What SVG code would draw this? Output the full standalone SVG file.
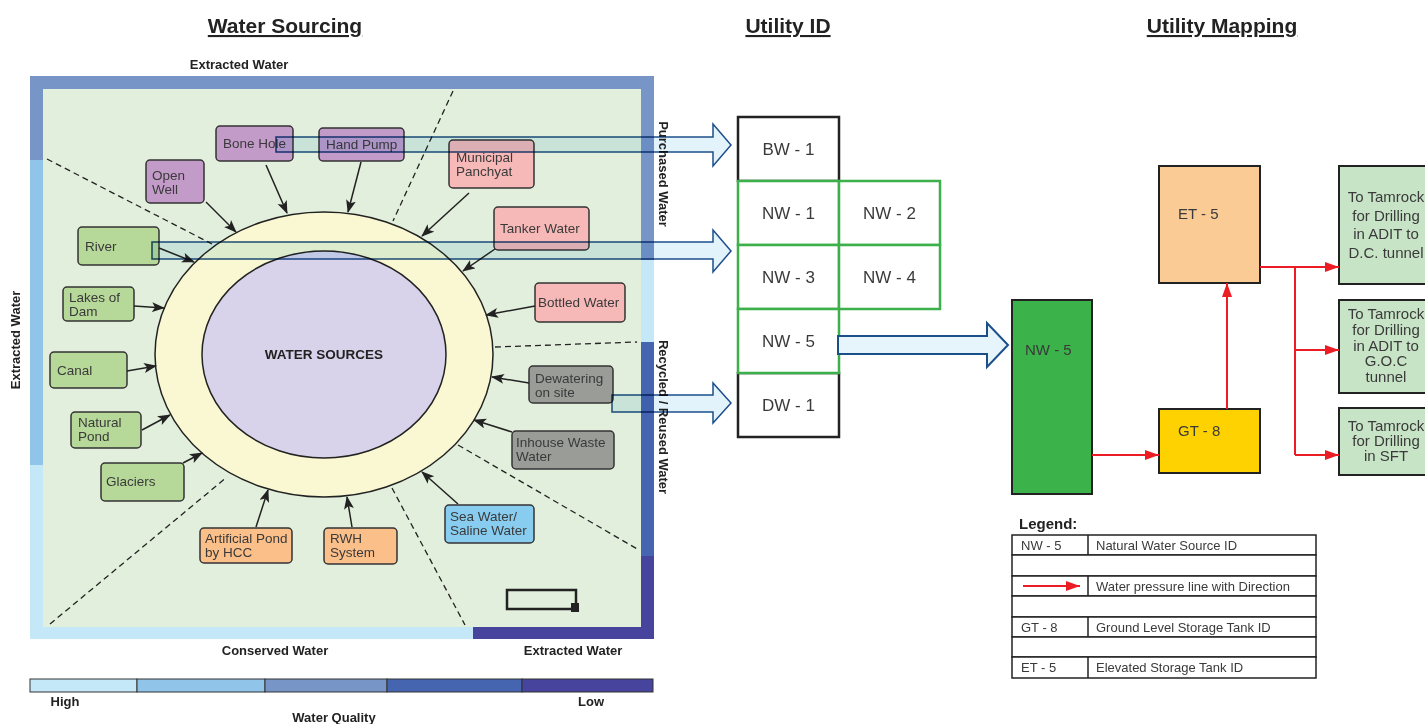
<svg xmlns="http://www.w3.org/2000/svg" width="1425" height="724" viewBox="0 0 1425 724">
<defs>
<style>
.t{font-family:"Liberation Sans",Arial,sans-serif;fill:#3a3a3a}
.n{font-size:13.5px}
.b{font-weight:bold;fill:#222}
.h{font-size:21px;font-weight:bold;fill:#222;text-decoration:underline}
.lbl{font-size:13px;font-weight:bold;fill:#222}
.nd{stroke:#333;stroke-width:1.5}
.pu{fill:#c39bc9}.pk{fill:#f7b8b8}.gr{fill:#9a9c98}.bl{fill:#88ccf0}.or{fill:#fbbf8a}.gn{fill:#b6d898}
.ar{stroke:#222;stroke-width:1.5;fill:none;marker-end:url(#ah)}
.ds{stroke:#222;stroke-width:1.3;stroke-dasharray:6 4;fill:none}
.wa{fill:#e3f3fb;stroke:#1c4f8a;stroke-width:1.5;mix-blend-mode:multiply}
.uid{fill:#fff;stroke-width:2.5}
.ut{font-size:17px;text-anchor:middle}
.ra{stroke:#ec1c24;stroke-width:2;fill:none}
.rae{stroke:#ec1c24;stroke-width:2;fill:none;marker-end:url(#rh)}
.mt{font-size:15px}
.lg{fill:#fff;stroke:#222;stroke-width:1.5}
.lt{font-size:13px}
</style>
<marker id="ah" markerUnits="userSpaceOnUse" markerWidth="14" markerHeight="12" refX="12" refY="5" orient="auto">
<path d="M0,0 L13,5 L0,10 L3,5 Z" fill="#222"/>
</marker>
<marker id="rh" markerUnits="userSpaceOnUse" markerWidth="16" markerHeight="12" refX="14" refY="5" orient="auto">
<path d="M0,0 L14,5 L0,10 Z" fill="#ec1c24"/>
</marker>
</defs>
<rect width="1425" height="724" fill="#fff"/>

<!-- Titles -->
<text class="t h" x="285" y="33" text-anchor="middle">Water Sourcing</text>
<text class="t h" x="788" y="33" text-anchor="middle">Utility ID</text>
<text class="t h" x="1222" y="33" text-anchor="middle">Utility Mapping</text>

<!-- Frame -->
<g id="frame">
<rect x="30" y="76" width="624" height="563" fill="#c5e8f8"/>
<rect x="30" y="76" width="624" height="13" fill="#7895c8"/>
<rect x="30" y="76" width="13" height="84" fill="#7895c8"/>
<rect x="30" y="160" width="13" height="305" fill="#90c4e8"/>
<rect x="641" y="76" width="13" height="184" fill="#7895c8"/>
<rect x="641" y="342" width="13" height="214" fill="#4665b0"/>
<rect x="641" y="556" width="13" height="83" fill="#46449c"/>
<rect x="473" y="627" width="181" height="12" fill="#46449c"/>
<rect x="43" y="89" width="598" height="538" fill="#e2efdc"/>
</g>

<text class="t lbl" x="239" y="69" text-anchor="middle">Extracted Water</text>
<text class="t lbl" x="0" y="0" text-anchor="middle" transform="translate(20,340) rotate(-90)">Extracted Water</text>
<text class="t lbl" x="0" y="0" text-anchor="middle" transform="translate(659,174) rotate(90)">Purchased Water</text>
<text class="t lbl" x="0" y="0" text-anchor="middle" transform="translate(659,417) rotate(90)">Recycled / Reused Water</text>
<text class="t lbl" x="275" y="655" text-anchor="middle">Conserved Water</text>
<text class="t lbl" x="573" y="655" text-anchor="middle">Extracted Water</text>

<!-- dashed dividers -->
<g id="dividers">
<line class="ds" x1="47" y1="159" x2="212" y2="244"/>
<line class="ds" x1="453" y1="91" x2="393" y2="221"/>
<line class="ds" x1="495" y1="347" x2="637" y2="342"/>
<line class="ds" x1="458" y1="445" x2="639" y2="550"/>
<line class="ds" x1="392" y1="488" x2="465" y2="625"/>
<line class="ds" x1="50" y1="624" x2="227" y2="477"/>
</g>

<!-- central ellipses -->
<g id="water-sources">
<ellipse cx="324" cy="354.5" rx="169" ry="142.5" fill="#faf8d2" stroke="#222" stroke-width="1.5"/>
<ellipse cx="324" cy="354.5" rx="122" ry="103.5" fill="#d8d3ea" stroke="#222" stroke-width="1.5"/>
<text class="t b" x="324" y="359" text-anchor="middle" font-size="13.5">WATER SOURCES</text>
</g>

<!-- icon -->
<g id="icon">
<rect x="507" y="590" width="69" height="19" fill="none" stroke="#222" stroke-width="2.5"/>
<rect x="571" y="603" width="8" height="9" fill="#222"/>
</g>

<!-- source nodes -->
<g id="bone-hole"><rect class="nd pu" x="216" y="126" width="77" height="35" rx="4"/><text class="t n" x="223" y="148">Bone Hole</text></g>
<g id="hand-pump"><rect class="nd pu" x="319" y="128" width="85" height="33" rx="4"/><text class="t n" x="326" y="149">Hand Pump</text></g>
<g id="open-well"><rect class="nd pu" x="146" y="160" width="58" height="43" rx="4"/><text class="t n" x="152" y="180">Open</text><text class="t n" x="152" y="194">Well</text></g>
<g id="municipal"><rect class="nd pk" x="449" y="140" width="85" height="48" rx="4"/><text class="t n" x="456" y="162">Municipal</text><text class="t n" x="456" y="176">Panchyat</text></g>
<g id="tanker"><rect class="nd pk" x="494" y="207" width="95" height="43" rx="4"/><text class="t n" x="500" y="233">Tanker Water</text></g>
<g id="bottled"><rect class="nd pk" x="535" y="283" width="90" height="39" rx="4"/><text class="t n" x="538" y="307">Bottled Water</text></g>
<g id="dewatering"><rect class="nd gr" x="529" y="366" width="84" height="37" rx="4"/><text class="t n" x="535" y="383">Dewatering</text><text class="t n" x="535" y="397">on site</text></g>
<g id="inhouse"><rect class="nd gr" x="512" y="431" width="102" height="38" rx="4"/><text class="t n" x="516" y="447">Inhouse Waste</text><text class="t n" x="516" y="461">Water</text></g>
<g id="sea-water"><rect class="nd bl" x="445" y="505" width="89" height="38" rx="4"/><text class="t n" x="450" y="521">Sea Water/</text><text class="t n" x="450" y="535">Saline Water</text></g>
<g id="artificial-pond"><rect class="nd or" x="200" y="528" width="92" height="35" rx="4"/><text class="t n" x="205" y="543">Artificial Pond</text><text class="t n" x="205" y="557">by HCC</text></g>
<g id="rwh"><rect class="nd or" x="324" y="528" width="73" height="36" rx="4"/><text class="t n" x="330" y="543">RWH</text><text class="t n" x="330" y="557">System</text></g>
<g id="river"><rect class="nd gn" x="78" y="227" width="81" height="38" rx="4"/><text class="t n" x="85" y="251">River</text></g>
<g id="lakes"><rect class="nd gn" x="63" y="287" width="71" height="34" rx="4"/><text class="t n" x="69" y="302">Lakes of</text><text class="t n" x="69" y="316">Dam</text></g>
<g id="canal"><rect class="nd gn" x="50" y="352" width="77" height="36" rx="4"/><text class="t n" x="57" y="375">Canal</text></g>
<g id="natural-pond"><rect class="nd gn" x="71" y="412" width="70" height="36" rx="4"/><text class="t n" x="78" y="427">Natural</text><text class="t n" x="78" y="441">Pond</text></g>
<g id="glaciers"><rect class="nd gn" x="101" y="463" width="83" height="38" rx="4"/><text class="t n" x="106" y="486">Glaciers</text></g>

<!-- Utility ID -->
<g id="bw-1"><rect class="uid" x="738" y="117" width="101" height="64" stroke="#222"/><text class="t ut" x="788.5" y="155">BW - 1</text></g>
<g id="dw-1"><rect class="uid" x="738" y="373" width="101" height="64" stroke="#222"/><text class="t ut" x="788.5" y="411">DW - 1</text></g>
<g id="nw-1"><rect class="uid" x="738" y="181" width="101" height="64" stroke="#3cb04a"/><text class="t ut" x="788.5" y="219">NW - 1</text></g>
<g id="nw-2"><rect class="uid" x="839" y="181" width="101" height="64" stroke="#3cb04a"/><text class="t ut" x="889.5" y="219">NW - 2</text></g>
<g id="nw-3"><rect class="uid" x="738" y="245" width="101" height="64" stroke="#3cb04a"/><text class="t ut" x="788.5" y="283">NW - 3</text></g>
<g id="nw-4"><rect class="uid" x="839" y="245" width="101" height="64" stroke="#3cb04a"/><text class="t ut" x="889.5" y="283">NW - 4</text></g>
<g id="nw-5"><rect class="uid" x="738" y="309" width="101" height="64" stroke="#3cb04a"/><text class="t ut" x="788.5" y="347">NW - 5</text></g>

<!-- Utility Mapping -->
<g id="nw-5-main"><rect x="1012" y="300" width="80" height="194" fill="#3bb34a" stroke="#222" stroke-width="2"/><text class="t mt" x="1025" y="355">NW - 5</text></g>
<g id="et-5"><rect x="1159" y="166" width="101" height="117" fill="#fbcb96" stroke="#222" stroke-width="2"/><text class="t mt" x="1178" y="219">ET - 5</text></g>
<g id="gt-8"><rect x="1159" y="409" width="101" height="64" fill="#fdd200" stroke="#222" stroke-width="2"/><text class="t mt" x="1178" y="436">GT - 8</text></g>
<g id="dest-dc"><rect x="1339" y="166" width="100" height="118" fill="#c8e4c6" stroke="#222" stroke-width="2"/>
<text class="t mt" text-anchor="middle"><tspan x="1386" y="202">To Tamrock</tspan><tspan x="1386" y="221">for Drilling</tspan><tspan x="1386" y="239">in ADIT to</tspan><tspan x="1386" y="258">D.C. tunnel</tspan></text></g>
<g id="dest-goc"><rect x="1339" y="300" width="100" height="93" fill="#c8e4c6" stroke="#222" stroke-width="2"/>
<text class="t mt" text-anchor="middle"><tspan x="1386" y="319">To Tamrock</tspan><tspan x="1386" y="335">for Drilling</tspan><tspan x="1386" y="351">in ADIT to</tspan><tspan x="1386" y="366">G.O.C</tspan><tspan x="1386" y="382">tunnel</tspan></text></g>
<g id="dest-sft"><rect x="1339" y="408" width="100" height="67" fill="#c8e4c6" stroke="#222" stroke-width="2"/>
<text class="t mt" text-anchor="middle"><tspan x="1386" y="431">To Tamrock</tspan><tspan x="1386" y="446">for Drilling</tspan><tspan x="1386" y="461">in SFT</tspan></text></g>

<!-- connectors -->
<g id="connectors">
<line class="ar" x1="206" y1="202" x2="236" y2="232"/>
<line class="ar" x1="266" y1="165" x2="287" y2="213"/>
<line class="ar" x1="361" y1="162" x2="348" y2="212"/>
<line class="ar" x1="469" y1="193" x2="422" y2="236"/>
<line class="ar" x1="495" y1="249" x2="463" y2="271"/>
<line class="ar" x1="535" y1="306" x2="486" y2="315"/>
<line class="ar" x1="529" y1="383" x2="492" y2="377"/>
<line class="ar" x1="512" y1="432" x2="474" y2="420"/>
<line class="ar" x1="458" y1="504" x2="422" y2="472"/>
<line class="ar" x1="256" y1="527" x2="268" y2="490"/>
<line class="ar" x1="352" y1="527" x2="347" y2="497"/>
<line class="ar" x1="159" y1="248" x2="194" y2="262"/>
<line class="ar" x1="134" y1="306" x2="164" y2="308"/>
<line class="ar" x1="127" y1="371" x2="156" y2="366"/>
<line class="ar" x1="142" y1="430" x2="170" y2="415"/>
<line class="ar" x1="183" y1="463" x2="202" y2="453"/>

<path class="wa" d="M276,137 H713 V124 L731,145 L713,166 V152 H276 Z"/>
<path class="wa" d="M152,242 H713 V230 L731,251 L713,272 V259 H152 Z"/>
<path class="wa" d="M612,395 H713 V383 L731,403 L713,423 V412 H612 Z"/>
<path d="M838,336 H987 V323 L1008,345 L987,367 V354 H838 Z" fill="#e6f4fc" stroke="#1a4f8a" stroke-width="2"/>

<line class="rae" x1="1092" y1="455" x2="1159" y2="455"/>
<line class="rae" x1="1227" y1="409" x2="1227" y2="283"/>
<line class="rae" x1="1260" y1="267" x2="1339" y2="267"/>
<polyline class="ra" points="1295,267 1295,455"/>
<line class="rae" x1="1295" y1="350" x2="1339" y2="350"/>
<line class="rae" x1="1295" y1="455" x2="1339" y2="455"/>
</g>

<!-- Legend -->
<g id="legend">
<text class="t b" x="1019" y="529" font-size="15">Legend:</text>
<rect class="lg" x="1012" y="535" width="304" height="20"/>
<rect class="lg" x="1012" y="555" width="304" height="21"/>
<rect class="lg" x="1012" y="576" width="304" height="20"/>
<rect class="lg" x="1012" y="596" width="304" height="21"/>
<rect class="lg" x="1012" y="617" width="304" height="20"/>
<rect class="lg" x="1012" y="637" width="304" height="20"/>
<rect class="lg" x="1012" y="657" width="304" height="21"/>
<line x1="1088" y1="535" x2="1088" y2="555" stroke="#222" stroke-width="1.5"/>
<line x1="1088" y1="576" x2="1088" y2="596" stroke="#222" stroke-width="1.5"/>
<line x1="1088" y1="617" x2="1088" y2="637" stroke="#222" stroke-width="1.5"/>
<line x1="1088" y1="657" x2="1088" y2="678" stroke="#222" stroke-width="1.5"/>
<text class="t lt" x="1021" y="550">NW - 5</text>
<text class="t lt" x="1096" y="550">Natural Water Source ID</text>
<line class="rae" x1="1023" y1="586" x2="1080" y2="586"/>
<text class="t lt" x="1096" y="591">Water pressure line with Direction</text>
<text class="t lt" x="1021" y="632">GT - 8</text>
<text class="t lt" x="1096" y="632">Ground Level Storage Tank ID</text>
<text class="t lt" x="1021" y="672">ET - 5</text>
<text class="t lt" x="1096" y="672">Elevated Storage Tank ID</text>
</g>

<!-- Water quality bar -->
<g id="quality-bar">
<rect x="30" y="679" width="107" height="13" fill="#c5e8f8" stroke="#333" stroke-width="1"/>
<rect x="137" y="679" width="128" height="13" fill="#90c4e8" stroke="#333" stroke-width="1"/>
<rect x="265" y="679" width="122" height="13" fill="#7895c8" stroke="#333" stroke-width="1"/>
<rect x="387" y="679" width="135" height="13" fill="#4665b0" stroke="#333" stroke-width="1"/>
<rect x="522" y="679" width="131" height="13" fill="#46449c" stroke="#333" stroke-width="1"/>
<text class="t lbl" x="65" y="706" text-anchor="middle">High</text>
<text class="t lbl" x="591" y="706" text-anchor="middle">Low</text>
<text class="t lbl" x="334" y="722" text-anchor="middle">Water Quality</text>
</g>
</svg>
